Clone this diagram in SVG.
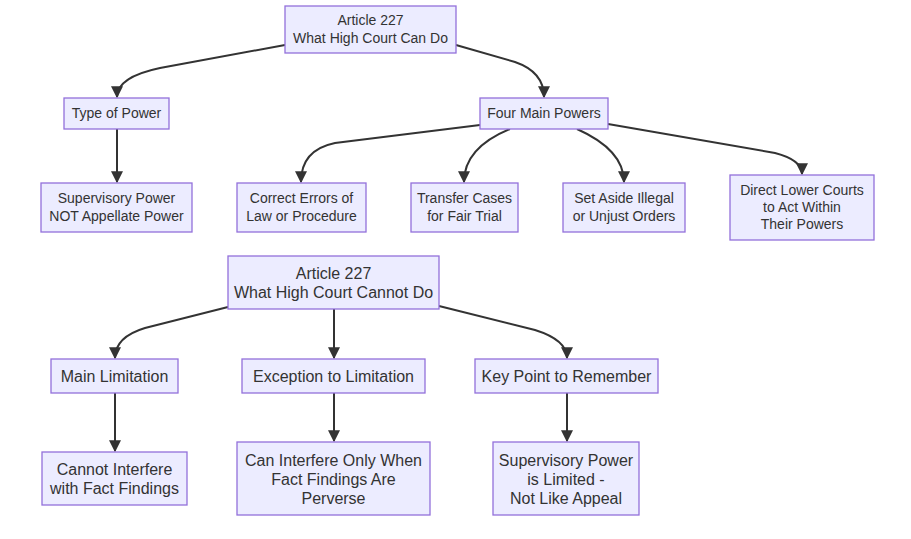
<svg xmlns="http://www.w3.org/2000/svg" width="911" height="539" viewBox="0 0 911 539">
<style>
.n rect{fill:#ECECFF;stroke:#9370DB;stroke-width:1.3}
.n text{font-family:"Liberation Sans",Arial,sans-serif;font-size:14px;fill:#333;text-anchor:middle}
.b text{font-size:16px}
.e path{fill:none;stroke:#333;stroke-width:2}
</style>
<defs>
<marker id="ah" viewBox="0 0 10 10" refX="9" refY="5" markerWidth="12" markerHeight="12" markerUnits="userSpaceOnUse" orient="auto">
<path d="M0,0 L10,5 L0,10 z" fill="#333"/>
</marker>
</defs>
<rect width="911" height="539" fill="#fff"/>
<g class="e">
<path d="M285,45 L160,68 Q117,77 117,97" marker-end="url(#ah)"/>
<path d="M456,45 L515,62 Q544,72 544,97" marker-end="url(#ah)"/>
<path d="M117,129 L117,182" marker-end="url(#ah)"/>
<path d="M480,125 L335,143 Q301,150 301,182" marker-end="url(#ah)"/>
<path d="M510,129 Q464,148 464,182" marker-end="url(#ah)"/>
<path d="M577,129 Q624,150 624,182" marker-end="url(#ah)"/>
<path d="M608,124 L775,153 Q802,160 802,174" marker-end="url(#ah)"/>
<path d="M228,307 L145,328 Q115,337 115,358" marker-end="url(#ah)"/>
<path d="M334,309 L334,358" marker-end="url(#ah)"/>
<path d="M439,306 L535,330 Q567,340 567,358" marker-end="url(#ah)"/>
<path d="M115,393 L115,451" marker-end="url(#ah)"/>
<path d="M334,393 L334,441" marker-end="url(#ah)"/>
<path d="M567,393 L567,441" marker-end="url(#ah)"/>
</g>
<g id="a227can" class="n"><rect x="285" y="6" width="171" height="47"/><text x="370.5" y="25">Article 227</text><text x="370.5" y="43">What High Court Can Do</text></g>
<g id="type" class="n"><rect x="64" y="98" width="105" height="31"/><text x="116.5" y="118">Type of Power</text></g>
<g id="four" class="n"><rect x="480" y="98" width="128" height="31"/><text x="544" y="118">Four Main Powers</text></g>
<g id="superv" class="n"><rect x="41" y="183" width="151" height="49"/><text x="116.5" y="203">Supervisory Power</text><text x="116.5" y="221">NOT Appellate Power</text></g>
<g id="correct" class="n"><rect x="237" y="183" width="129" height="49"/><text x="301.5" y="203">Correct Errors of</text><text x="301.5" y="221">Law or Procedure</text></g>
<g id="transfer" class="n"><rect x="411" y="183" width="107" height="49"/><text x="464.5" y="203">Transfer Cases</text><text x="464.5" y="221">for Fair Trial</text></g>
<g id="setaside" class="n"><rect x="563" y="183" width="122" height="49"/><text x="624" y="203">Set Aside Illegal</text><text x="624" y="221">or Unjust Orders</text></g>
<g id="direct" class="n"><rect x="730" y="175" width="144" height="65"/><text x="802" y="195">Direct Lower Courts</text><text x="802" y="212">to Act Within</text><text x="802" y="229">Their Powers</text></g>
<g id="a227cannot" class="n b"><rect x="228" y="256" width="211" height="53"/><text x="333.5" y="279">Article 227</text><text x="333.5" y="298">What High Court Cannot Do</text></g>
<g id="mainlim" class="n b"><rect x="51" y="359" width="127" height="34"/><text x="114.5" y="382">Main Limitation</text></g>
<g id="exception" class="n b"><rect x="242" y="359" width="183" height="34"/><text x="333.5" y="382">Exception to Limitation</text></g>
<g id="keypoint" class="n b"><rect x="475" y="359" width="183" height="34"/><text x="566.5" y="382">Key Point to Remember</text></g>
<g id="cannotint" class="n b"><rect x="42" y="452" width="145" height="53"/><text x="114.5" y="475">Cannot Interfere</text><text x="114.5" y="494">with Fact Findings</text></g>
<g id="caninter" class="n b"><rect x="237" y="442" width="193" height="73"/><text x="333.5" y="466">Can Interfere Only When</text><text x="333.5" y="485">Fact Findings Are</text><text x="333.5" y="504">Perverse</text></g>
<g id="limited" class="n b"><rect x="493" y="442" width="146" height="73"/><text x="566" y="466">Supervisory Power</text><text x="566" y="485">is Limited -</text><text x="566" y="504">Not Like Appeal</text></g>
</svg>
